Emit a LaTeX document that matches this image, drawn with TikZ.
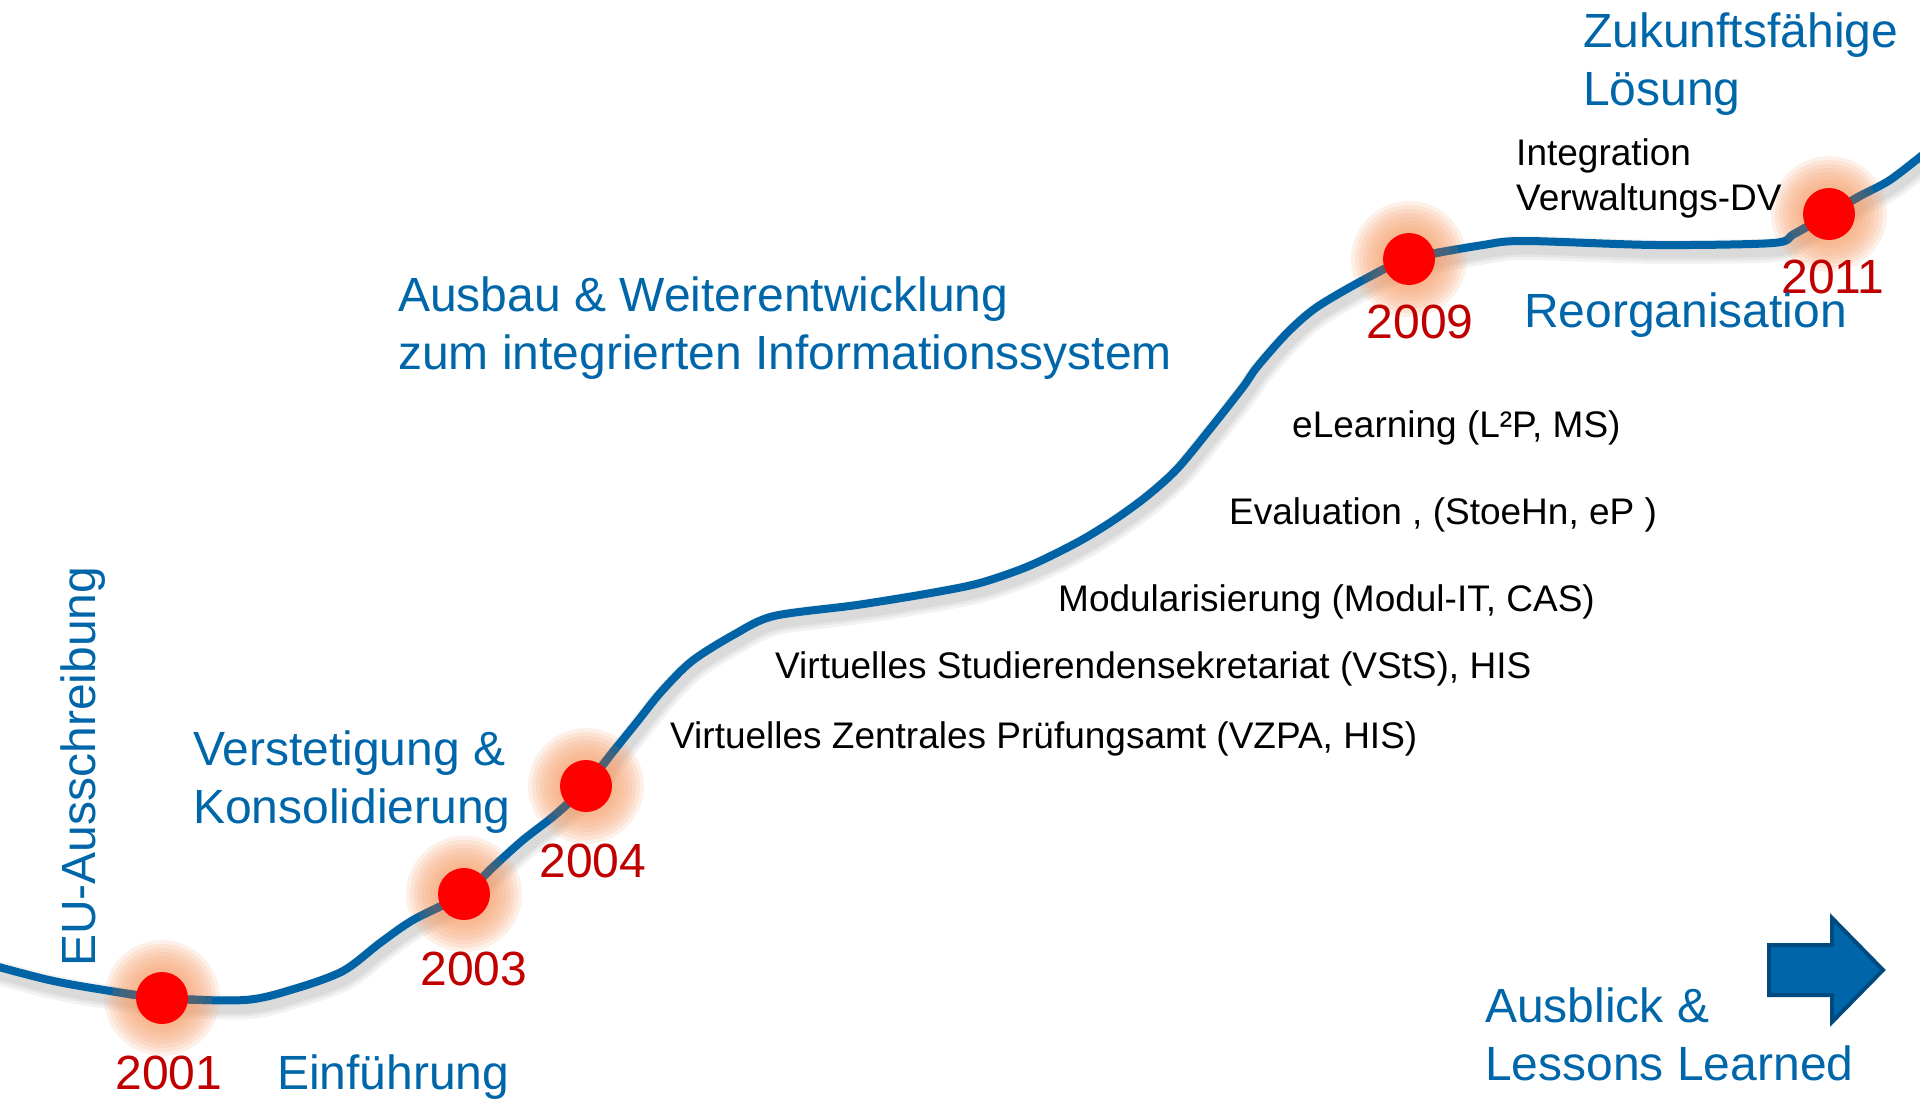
\documentclass[tikz,border=0pt]{standalone}
\usepackage{fontspec}
\setmainfont{Liberation Sans}

\definecolor{lineblue}{RGB}{0,99,166}
\definecolor{textblue}{RGB}{0,102,170}
\definecolor{yearred}{RGB}{192,0,0}
\definecolor{glowpeach}{RGB}{245,160,110}
\definecolor{linegray}{RGB}{88,100,112}
\definecolor{arrowedge}{RGB}{0,74,128}

% the time line, hand traced
\newcommand{\timeline}{plot[smooth, tension=0.5] coordinates {(-5,966) (49,980) (98,989) (162,998) (245,1000) (294,989) (343,971) (380,943) (413,920) (464,894) (493,867) (523,840) (555,815) (586,786) (612,753) (637,722) (661,692) (692,661) (735,634) (774,616) (857,605) (931,593) (980,583) (1029,566) (1078,542) (1114,520) (1147,496) (1177,469) (1210,429) (1243,387) (1257,367) (1287,333) (1317,307) (1367,278) (1409,259) (1483,245) (1525,241) (1656,245) (1773,243) (1794,234) (1829,214) (1860,196) (1890,180) (1925,153)}}

\begin{document}
\begin{tikzpicture}[x=1pt, y=-1pt,
  bluetext/.style={text=textblue, font=\fontsize{48}{58}\selectfont, align=left, anchor=west, inner sep=0pt},
  blacktext/.style={text=black, font=\fontsize{37}{45}\selectfont, align=left, anchor=west, inner sep=0pt},
  yeartext/.style={text=yearred, font=\fontsize{48}{58}\selectfont, inner sep=0pt},
  yeardot/.style={circle, fill=red, minimum size=52pt, inner sep=0pt},
  curve/.style={line width=8pt, line cap=round, line join=round}]
\useasboundingbox (0,0) rectangle (1920,1101);

\coordinate (d2001) at (162,998);
\coordinate (d2003) at (464,894);
\coordinate (d2004) at (586,786);
\coordinate (d2009) at (1409,259);
\coordinate (d2011) at (1829,214);

% soft shadow below the line
\begin{scope}[shift={(3,7)}]
\foreach \w in {24,18,13}
  \draw[curve, black, opacity=0.05, line width=\w pt] \timeline;
\end{scope}

% glow round the milestones
\foreach \d in {d2001,d2003,d2004,d2009,d2011}
  \foreach \r in {58,54,...,30}
    \fill[glowpeach, opacity=0.16] (\d) circle (\r pt);

\draw[curve, lineblue] \timeline;

% the line turns grey near the dots
\foreach \d in {d2001,d2003,d2004,d2009,d2011}
  \foreach \r in {50,42,34} {
    \begin{scope}
      \clip (\d) circle (\r pt);
      \draw[curve, linegray, opacity=0.5] \timeline;
    \end{scope}
  }

\node[yeardot] (dot2001) at (d2001) {};
\node[yeardot] (dot2003) at (d2003) {};
\node[yeardot] (dot2004) at (d2004) {};
\node[yeardot] (dot2009) at (d2009) {};
\node[yeardot] (dot2011) at (d2011) {};

\node[yeartext] (y2001) at (169,1073) {2001};
\node[yeartext] (y2003) at (474,969) {2003};
\node[yeartext] (y2004) at (593,861) {2004};
\node[yeartext] (y2009) at (1420,322) {2009};
\node[yeartext] (y2011) at (1833,277) {2011};

% phases
\node[bluetext, rotate=90] (eu) at (83,967) {EU-Ausschreibung};
\node[bluetext] (einfuehrung) at (277,1077) {Einführung};
\node[bluetext] (verstetigung) at (193,782) {Verstetigung \&\\Konsolidierung};
\node[bluetext] (ausbau) at (398,328) {Ausbau \& Weiterentwicklung\\zum integrierten Informationssystem};
\node[bluetext] (reorg) at (1524,315) {Reorganisation};
\node[bluetext] (zukunft) at (1583,64) {Zukunftsfähige\\Lösung};
\node[bluetext] (ausblick) at (1485,1034) {Ausblick \&\\Lessons Learned};

% projects
\node[blacktext] (vzpa) at (670,739) {Virtuelles Zentrales Prüfungsamt (VZPA, HIS)};
\node[blacktext] (vsts) at (775,669) {Virtuelles Studierendensekretariat (VStS), HIS};
\node[blacktext] (modul) at (1058,602) {Modularisierung (Modul-IT, CAS)};
\node[blacktext] (evaluation) at (1229,515) {Evaluation , (StoeHn, eP )};
\node[blacktext] (elearning) at (1292,428) {eLearning (L²P, MS)};
\node[blacktext] (integration) at (1516,178) {Integration\\Verwaltungs-DV};

% arrow
\draw[arrowedge, fill=textblue, line width=4pt, line join=miter]
  (1769,945) -- (1832,945) -- (1832,918) -- (1883,970) -- (1832,1022) -- (1832,995) -- (1769,995) -- cycle;
\end{tikzpicture}
\end{document}
